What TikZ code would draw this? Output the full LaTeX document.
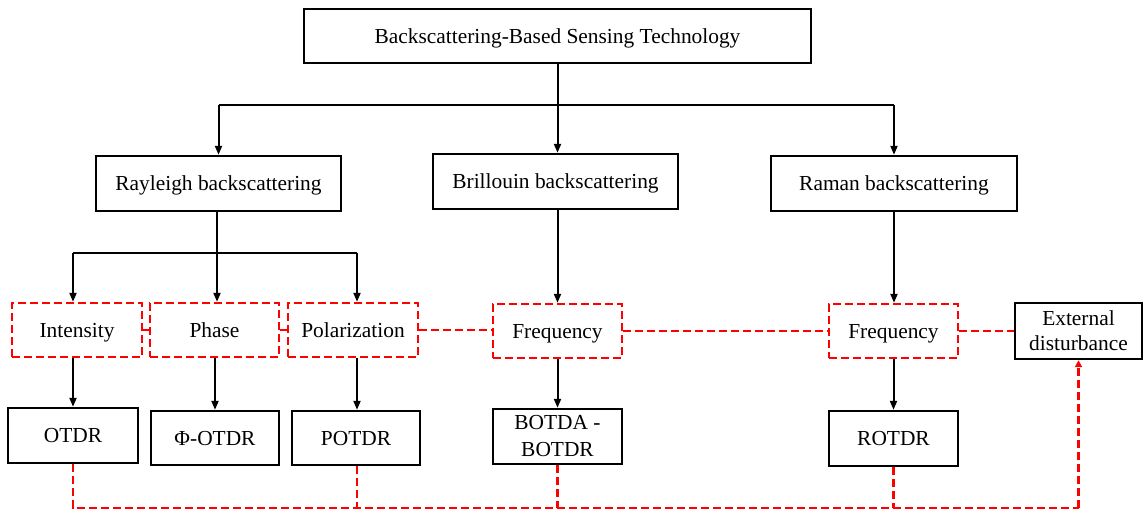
\documentclass[tikz,border=0pt]{standalone}
\usepackage{fontspec}
\setmainfont{Liberation Serif}
\usetikzlibrary{arrows.meta,calc}
\definecolor{dred}{RGB}{255,0,0}
\tikzset{
  base/.style={rectangle, inner sep=0pt, align=center, font=\fontsize{21.4}{25}\selectfont},
  one/.style={text height=19.2pt, text depth=5pt},
  bbox/.style={base, draw=black, line width=2.4pt},
  rbox/.style={base, one, draw=dred, line width=2.4pt, dash pattern=on 8pt off 4pt},
  conn/.style={draw=black, line width=2pt},
  arr/.style={conn, -{Triangle[length=9pt,width=7pt]}},
  rconn/.style={draw=dred, line width=2.4pt, dash pattern=on 8pt off 4pt},
  rarr/.style={rconn, -{Triangle[length=7pt,width=7pt]}}
}
\begin{document}
\begin{tikzpicture}[x=1pt,y=-1pt]
\useasboundingbox (0,0) rectangle (1143,510);
% top
\node[bbox, one, minimum width=507pt, minimum height=54pt] (top) at (557.5,36) {Backscattering-Based Sensing Technology};
% second level
\node[bbox, one, minimum width=245pt, minimum height=55pt] (ray) at (218.5,183.5) {Rayleigh backscattering};
\node[bbox, one, minimum width=245pt, minimum height=55pt] (bri) at (555.5,181.5) {Brillouin backscattering};
\node[bbox, one, minimum width=246pt, minimum height=55pt] (ram) at (894,183.5) {Raman backscattering};
% third level (dashed)
\node[rbox, minimum width=130pt, minimum height=54pt] (int) at (77,330) {Intensity};
\node[rbox, minimum width=129pt, minimum height=54pt] (pha) at (214.5,330) {Phase};
\node[rbox, minimum width=130pt, minimum height=54pt] (pol) at (353,330) {Polarization};
\node[rbox, minimum width=129pt, minimum height=54pt] (fr1) at (557.5,331) {Frequency};
\node[rbox, minimum width=129pt, minimum height=54pt] (fr2) at (893.5,331) {Frequency};
\node[bbox, minimum width=127pt, minimum height=56pt] (ext) at (1078.5,331) {External\\disturbance};
% fourth level
\node[bbox, one, minimum width=130pt, minimum height=55pt] (otdr) at (73,435.5) {OTDR};
\node[bbox, one, minimum width=128pt, minimum height=54pt] (phi) at (215,438) {Φ-OTDR};
\node[bbox, one, minimum width=128pt, minimum height=54pt] (potdr) at (356,438) {POTDR};
\node[bbox, minimum width=129pt, minimum height=55pt, font=\fontsize{21.4}{27}\selectfont] (botda) at (557.5,436.5) {BOTDA -\\BOTDR};
\node[bbox, one, minimum width=129pt, minimum height=55pt] (rotdr) at (893.5,438.5) {ROTDR};
% helper coordinates
\coordinate (hub) at (557,105);
\coordinate (rb) at (217,253);
\coordinate (b1) at (73,253);
\coordinate (b3) at (357,253);
\coordinate (br) at (1078.5,508);
% black connectors, top
\draw[conn] (ray.north |- hub) -- (ram.north |- hub);
\draw[arr] (top.south) -- (top.south |- bri.north);
\draw[arr] (ray.north |- hub) -- (ray.north);
\draw[arr] (ram.north |- hub) -- (ram.north);
% Rayleigh branch
\draw[conn] (ray.south -| rb) -- (rb);
\draw[conn] (b1) -- (b3);
\draw[arr] (b1) -- (b1 |- int.north);
\draw[arr] (rb) -- (rb |- pha.north);
\draw[arr] (b3) -- (b3 |- pol.north);
\draw[arr] (bri.south -| fr1.north) -- (fr1.north);
\draw[arr] (ram.south) -- (ram.south |- fr2.north);
% third to fourth
\draw[arr] (int.south -| otdr.north) -- (otdr.north);
\draw[arr] (pha.south -| phi.north) -- (phi.north);
\draw[arr] (pol.south -| b3) -- (b3 |- potdr.north);
\draw[arr] (fr1.south) -- (botda.north);
\draw[arr] (fr2.south) -- (rotdr.north);
% red dashed horizontal links
\draw[rconn] (int.east) -- (int.east -| pha.west);
\draw[rconn] (pha.east) -- (pha.east -| pol.west);
\draw[rconn] (pol.east) -- (pol.east -| fr1.west);
\draw[rconn] (fr1.east) -- (fr2.west);
\draw[rconn] (fr2.east) -- (ext.west);
% bottom feedback
\draw[rconn] (otdr.south) |- (br);
\draw[rconn] (potdr.south -| b3) -- (b3 |- br);
\draw[rconn] (botda.south) -- (botda.south |- br);
\draw[rconn] (rotdr.south) -- (rotdr.south |- br);
\draw[rarr] (br) -- (ext.south);
\end{tikzpicture}
\end{document}
